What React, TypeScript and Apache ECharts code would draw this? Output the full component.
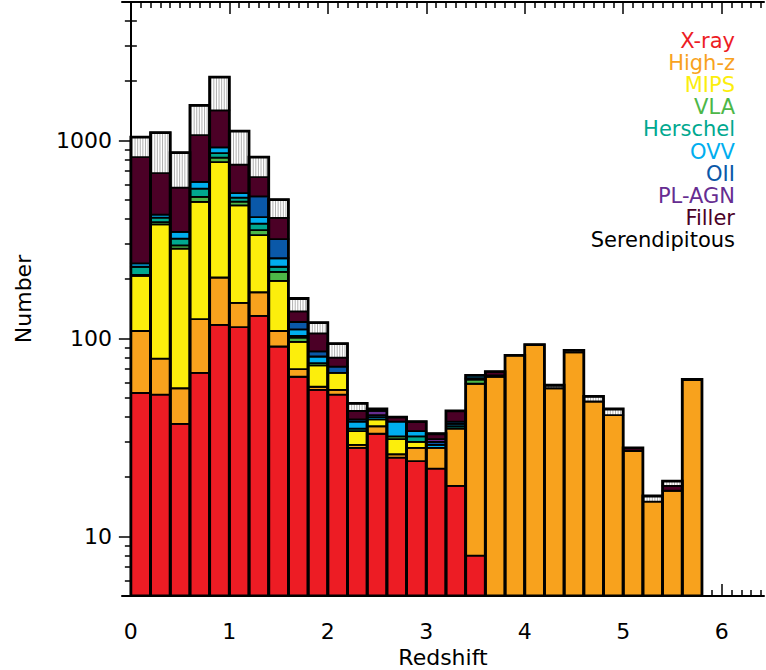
import React, { useEffect, useRef } from 'react';
import * as echarts from 'echarts';

// ---- data -------------------------------------------------------------
const BIN_WIDTH = 0.2;
const BIN_STARTS = [
  0.0, 0.2, 0.4, 0.6, 0.8, 1.0, 1.2, 1.4, 1.6, 1.8, 2.0, 2.2, 2.4, 2.6, 2.8,
  3.0, 3.2, 3.4, 3.6, 3.8, 4.0, 4.2, 4.4, 4.6, 4.8, 5.0, 5.2, 5.4, 5.6,
];

const XRAY = [53, 52, 37, 67, 117, 114, 130, 91, 64, 55, 52, 28, 33, 25, 24, 22, 18, 8, 0, 0, 0, 0, 0, 0, 0, 0, 0, 0, 0];
const HIGHZ = [56, 27, 19, 58, 86, 37, 41, 18, 6, 2, 3, 1, 3, 1, 4, 6, 17, 51, 64, 82, 93, 56, 85, 48, 41, 27, 15, 17, 62];
const MIPS = [98, 298, 228, 364, 574, 319, 161, 86, 26, 16, 12, 5, 3, 5, 2, 0, 0, 0, 0, 0, 0, 0, 0, 0, 0, 0, 0, 0, 0];
const VLA = [2, 10, 11, 29, 41, 21, 20, 22, 5, 2, 0, 0, 0, 1, 0, 0, 0, 3, 0, 0, 0, 0, 0, 0, 0, 0, 0, 0, 0];
const HERSCHEL = [21, 20, 24, 53, 45, 23, 28, 13, 2, 0, 0, 1, 0, 0, 2, 0, 1, 1, 0, 0, 0, 0, 0, 0, 0, 0, 0, 0, 0];
const OVV = [9, 15, 26, 46, 59, 28, 30, 24, 8, 6, 0, 3, 1, 6, 2, 1, 1, 2, 0, 0, 0, 0, 0, 0, 0, 0, 0, 0, 0];
const OII = [0, 0, 0, 0, 0, 0, 111, 63, 10, 5, 5, 1, 1, 0, 0, 1, 1, 0, 0, 0, 0, 0, 0, 0, 0, 0, 0, 0, 0];
const PLAGN = [0, 0, 0, 0, 0, 0, 0, 0, 0, 0, 0, 0, 2, 0, 0, 1, 0, 0, 1, 0, 0, 0, 0, 0, 0, 0, 0, 0, 0];
const FILLER = [585, 262, 233, 446, 495, 212, 131, 89, 16, 20, 8, 4, 1, 2, 4, 2, 5, 0, 3, 0, 0, 0, 0, 0, 0, 1, 0, 1, 0];
const SERENDIPITOUS = [215, 410, 289, 438, 668, 360, 171, 96, 22, 14, 14, 4, 0, 0, 0, 0, 0, 0, 0, 0, 0, 2, 2, 3, 3, 0, 1, 1, 0];

const CLASS_NAMES = ['X-ray', 'High-z', 'MIPS', 'VLA', 'Herschel', 'OVV', 'OII', 'PL-AGN', 'Filler', 'Serendipitous'];
const CLASS_VALUES = [XRAY, HIGHZ, MIPS, VLA, HERSCHEL, OVV, OII, PLAGN, FILLER, SERENDIPITOUS];
const CLASS_COLORS = ['#ed1c24', '#f8a21d', '#fcee0c', '#4db748', '#00a88f', '#00aeef', '#0a58a8', '#662d91', '#4b0026', '#ffffff'];
const LEGEND_COLORS = ['#ed1c24', '#f8a21d', '#fcee0c', '#4db748', '#00a88f', '#00aeef', '#0a58a8', '#662d91', '#4b0026', '#000000'];

const X_MIN = -0.09;
const X_MAX = 6.43;
const Y_MIN = 5;
const Y_MAX = 5000;
const X_MAJOR = [0, 1, 2, 3, 4, 5, 6];
const X_MINOR = Array.from({ length: 64 }, (_, i) => (i + 1) / 10).filter(
  (v) => v <= X_MAX && Math.abs(v - Math.round(v)) > 1e-6
);
const Y_MAJOR = [10, 100, 1000];
const Y_MINOR = [6, 7, 8, 9, 20, 30, 40, 50, 60, 70, 80, 90, 200, 300, 400, 500, 600, 700, 800, 900, 2000, 3000, 4000];

const FONT = 'DejaVu Sans';

export default function App() {
  const ref = useRef<HTMLDivElement>(null);

  useEffect(() => {
    if (!ref.current) return;
    const chart = echarts.init(ref.current, undefined, { renderer: 'svg' });

    // build stacked segments
    const cum = BIN_STARTS.map(() => 0);
    const segSeries: any[] = CLASS_VALUES.map((vals, ci) => {
      const data: number[][] = [];
      vals.forEach((v, bi) => {
        const base = cum[bi];
        const top = base + v;
        cum[bi] = top;
        if (v > 0) {
          data.push([BIN_STARTS[bi], BIN_STARTS[bi] + BIN_WIDTH, Math.max(base, Y_MIN), top]);
        }
      });
      const hatched = ci === CLASS_VALUES.length - 1;
      return {
        type: 'custom',
        name: CLASS_NAMES[ci],
        xAxisIndex: 0,
        yAxisIndex: 0,
        clip: true,
        z: 3,
        encode: { x: [0, 1], y: [2, 3] },
        data,
        renderItem: (params: any, api: any) => {
          const x0 = api.value(0);
          const x1 = api.value(1);
          const b = api.value(2);
          const t = api.value(3);
          const p0 = api.coord([x0, t]);
          const p1 = api.coord([x1, b]);
          const r = { x: p0[0], y: p0[1], width: p1[0] - p0[0], height: p1[1] - p0[1] };
          if (!hatched) {
            return {
              type: 'rect',
              shape: r,
              style: { fill: CLASS_COLORS[ci], stroke: '#000', lineWidth: 1.8 },
            };
          }
          const children: any[] = [{ type: 'rect', shape: r, style: { fill: '#ffffff' } }];
          for (let x = r.x + 1.6; x < r.x + r.width - 0.8; x += 2.6) {
            children.push({
              type: 'line',
              shape: { x1: x, y1: r.y, x2: x, y2: r.y + r.height },
              style: { stroke: '#b0b0b0', lineWidth: 1 },
            });
          }
          children.push({ type: 'rect', shape: r, style: { fill: 'none', stroke: '#000', lineWidth: 1.8 } });
          return { type: 'group', children };
        },
      };
    });

    const outlineData = BIN_STARTS.map((s, bi) => [s, s + BIN_WIDTH, Y_MIN, cum[bi]]);
    const outlineSeries = {
      type: 'custom',
      name: 'outline',
      xAxisIndex: 0,
      yAxisIndex: 0,
      clip: true,
      z: 4,
      encode: { x: [0, 1], y: [2, 3] },
      data: outlineData,
      renderItem: (params: any, api: any) => {
        const p0 = api.coord([api.value(0), api.value(3)]);
        const p1 = api.coord([api.value(1), api.value(2)]);
        return {
          type: 'rect',
          shape: { x: p0[0], y: p0[1], width: p1[0] - p0[0], height: p1[1] - p0[1] },
          style: { fill: 'none', stroke: '#000', lineWidth: 2.8 },
        };
      },
    };

    const lineStyle = { color: '#000', width: 2 };
    const tickStyle = { color: '#000', width: 1.5 };
    const baseX = { type: 'value', min: X_MIN, max: X_MAX, splitLine: { show: false } };
    const baseY = { type: 'log', logBase: 10, min: Y_MIN, max: Y_MAX, splitLine: { show: false } };

    const xAxis: any[] = [
      {
        ...baseX,
        position: 'bottom',
        axisLine: { show: true, lineStyle },
        axisTick: { show: true, inside: true, length: 12, customValues: X_MAJOR, lineStyle: tickStyle },
        axisLabel: {
          show: true,
          customValues: X_MAJOR,
          formatter: (v: number) => String(Math.round(v)),
          fontSize: 22,
          fontFamily: FONT,
          color: '#000',
          margin: 24,
        },
        name: 'Redshift',
        nameLocation: 'middle',
        nameGap: 45,
        nameTextStyle: { fontSize: 22, fontFamily: FONT, color: '#000' },
      },
      {
        ...baseX,
        position: 'bottom',
        axisLine: { show: false },
        axisTick: { show: true, inside: true, length: 6, customValues: X_MINOR, lineStyle: tickStyle },
        axisLabel: { show: false },
      },
      {
        ...baseX,
        position: 'top',
        axisLine: { show: true, lineStyle },
        axisTick: { show: true, inside: true, length: 12, customValues: X_MAJOR, lineStyle: tickStyle },
        axisLabel: { show: false },
      },
      {
        ...baseX,
        position: 'top',
        axisLine: { show: false },
        axisTick: { show: true, inside: true, length: 6, customValues: X_MINOR, lineStyle: tickStyle },
        axisLabel: { show: false },
      },
    ];

    const yAxis: any[] = [
      {
        ...baseY,
        position: 'left',
        axisLine: { show: true, lineStyle },
        axisTick: { show: true, inside: true, length: 12, customValues: Y_MAJOR, lineStyle: tickStyle },
        axisLabel: {
          show: true,
          customValues: Y_MAJOR,
          formatter: (v: number) => String(Math.round(v)),
          fontSize: 22,
          fontFamily: FONT,
          color: '#000',
          margin: 10,
        },
        name: 'Number',
        nameLocation: 'middle',
        nameGap: 88,
        nameTextStyle: { fontSize: 22, fontFamily: FONT, color: '#000' },
      },
      {
        ...baseY,
        position: 'left',
        axisLine: { show: false },
        axisTick: { show: true, inside: true, length: 6, customValues: Y_MINOR, lineStyle: tickStyle },
        axisLabel: { show: false },
      },
      {
        ...baseY,
        position: 'right',
        axisLine: { show: true, lineStyle },
        axisTick: { show: true, inside: true, length: 12, customValues: Y_MAJOR, lineStyle: tickStyle },
        axisLabel: { show: false },
      },
      {
        ...baseY,
        position: 'right',
        axisLine: { show: false },
        axisTick: { show: true, inside: true, length: 6, customValues: Y_MINOR, lineStyle: tickStyle },
        axisLabel: { show: false },
      },
    ];

    const legend = CLASS_NAMES.map((name, i) => ({
      type: 'text',
      x: 735,
      y: 41 + i * 22.1,
      z: 10,
      style: {
        text: name,
        fill: LEGEND_COLORS[i],
        font: `21px "${FONT}"`,
        textAlign: 'right',
        textVerticalAlign: 'middle',
        align: 'right',
        verticalAlign: 'middle',
      },
    }));

    chart.setOption({
      animation: false,
      backgroundColor: '#ffffff',
      grid: { left: 122, top: 2, width: 642, height: 594, containLabel: false, outerBoundsMode: 'none' },
      xAxis,
      yAxis,
      series: [...segSeries, outlineSeries],
      graphic: legend,
    });

    return () => chart.dispose();
  }, []);

  return (
    <div
      ref={ref}
      style={{ position: 'absolute', left: 0, top: 0, width: 766, height: 670, background: '#fff' }}
    />
  );
}
